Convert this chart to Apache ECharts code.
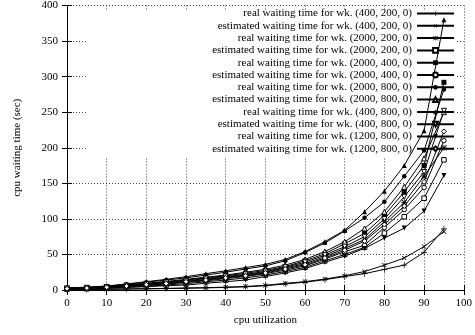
<!DOCTYPE html>
<html>
<head>
<meta charset="utf-8">
<script src="https://cdn.jsdelivr.net/npm/echarts@6/dist/echarts.min.js"></script>
<style>
  html, body { margin: 0; padding: 0; background: #fff; }
  #chart { width: 475px; height: 335px; }
</style>
</head>
<body>
<div id="chart"></div>
<script>
// cpu utilization (x)
const utilization = [0, 5, 10, 15, 20, 25, 30, 35, 40, 45, 50, 55, 60, 65, 70, 75, 80, 85, 90, 95];

const seriesNames = [
  'real waiting time for wk. (400, 200, 0)',
  'estimated waiting time for wk. (400, 200, 0)',
  'real waiting time for wk. (2000, 200, 0)',
  'estimated waiting time for wk. (2000, 200, 0)',
  'real waiting time for wk. (2000, 400, 0)',
  'estimated waiting time for wk. (2000, 400, 0)',
  'real waiting time for wk. (2000, 800, 0)',
  'estimated waiting time for wk. (2000, 800, 0)',
  'real waiting time for wk. (400, 800, 0)',
  'estimated waiting time for wk. (400, 800, 0)',
  'real waiting time for wk. (1200, 800, 0)',
  'estimated waiting time for wk. (1200, 800, 0)'
];

// waiting time (sec), one array per series, same order as seriesNames
const real400x200 = [0.5, 0.8, 1, 1.3, 1.6, 2, 2.5, 3, 3.6, 4.5, 6, 8.5, 11, 14.5, 19, 23, 29, 35, 53, 86];
const est400x200 = [0.6, 0.9, 1.2, 1.5, 1.9, 2.3, 2.8, 3.3, 4, 5, 6.6, 9.4, 11.7, 15.4, 20, 26, 35, 45, 61, 82];
const real2000x200 = [2, 2.9, 4, 5.8, 8, 10, 12, 15, 18, 21, 25, 31, 37, 47, 58.5, 71, 96, 123, 160, 200];
const est2000x200 = [1.4, 2, 2.8, 4, 5.5, 7, 9, 11.5, 14, 17, 21, 26, 32, 41, 50, 60, 80, 103, 129, 183];
const real2000x400 = [2.4, 3.3, 4.6, 6.5, 9, 11.5, 14, 17, 20, 23.5, 27.5, 33, 41, 51, 65, 79.5, 105, 138, 175, 292];
const est2000x400 = [1.6, 2.4, 3.3, 5, 6.5, 8.5, 10.5, 13, 16, 19, 23, 28, 34, 43.5, 53.8, 63, 88, 113, 144, 210];
const real2000x800 = [2.8, 3.8, 5.3, 8, 11, 14, 17, 21, 25, 29.5, 34, 41, 52.7, 66, 83, 101.5, 124, 160, 196, 282];
const est2000x800 = [2.6, 3.5, 5, 7, 9.5, 12, 15, 18, 21, 25, 29, 35, 43, 54, 67.8, 86.5, 110, 145, 185, 250];
const real400x800 = [3, 4, 5.6, 8.5, 11.7, 15, 18.7, 23, 27, 31.5, 36, 43, 54, 68, 84, 110, 139, 175, 224, 380];
const est400x800 = [2.2, 3.1, 4.3, 6, 8.5, 10.5, 13, 16, 19, 22, 26, 32, 39, 49, 61, 75, 100, 131, 166, 252];
const real1200x800 = [1.2, 1.7, 2.2, 3.5, 4.7, 6, 7, 9.5, 11.7, 14, 19, 24, 30, 39, 47.7, 58.5, 73, 87, 111, 161];
const est1200x800 = [1.8, 2.7, 3.7, 5.5, 7.5, 9, 11.5, 14, 17, 20, 24, 29.5, 35.5, 45, 56, 68.8, 92, 118, 152, 223];

const seriesValues = [
  real400x200, est400x200, real2000x200, est2000x200,
  real2000x400, est2000x400, real2000x800, est2000x800,
  real400x800, est400x800, real1200x800, est1200x800
];

const xTicks = { min: 0, max: 100, step: 10 };
const yTicks = { min: 0, max: 400, step: 50 };

// gnuplot-like point types
const PLUS = 'path://M0,4.4L10,4.4L10,5.6L0,5.6Z M4.4,0L5.6,0L5.6,10L4.4,10Z';
const STAR = 'path://M0,4.4L10,4.4L10,5.6L0,5.6Z M4.4,0L5.6,0L5.6,10L4.4,10Z M0,1L1,0L10,9L9,10Z M9,0L10,1L1,10L0,9Z';
const markers = [
  { symbol: PLUS, size: 6, open: false, rot: 0 },
  { symbol: PLUS, size: 6, open: false, rot: 45 },
  { symbol: STAR, size: 6, open: false, rot: 0 },
  { symbol: 'rect', size: 4.5, open: true, rot: 0 },
  { symbol: 'rect', size: 5, open: false, rot: 0 },
  { symbol: 'circle', size: 4.5, open: true, rot: 0 },
  { symbol: 'circle', size: 4.5, open: false, rot: 0 },
  { symbol: 'triangle', size: 5, open: true, rot: 0 },
  { symbol: 'triangle', size: 5, open: false, rot: 0 },
  { symbol: 'triangle', size: 5, open: true, rot: 180 },
  { symbol: 'triangle', size: 5, open: false, rot: 180 },
  { symbol: 'diamond', size: 5, open: true, rot: 0 }
];

const FONT = 'Liberation Serif';
const chart = echarts.init(document.getElementById('chart'));

const series = seriesNames.map((name, i) => {
  const m = markers[i];
  return {
    name: name,
    type: 'line',
    data: utilization.map((x, j) => [x, seriesValues[i][j]]),
    symbol: m.symbol,
    symbolSize: m.size,
    symbolRotate: m.rot,
    showAllSymbol: true,
    lineStyle: { color: '#000', width: 1 },
    itemStyle: m.open
      ? { color: '#fff', borderColor: '#000', borderWidth: 1 }
      : { color: '#000', borderWidth: 0 },
    emphasis: { disabled: true },
    animation: false
  };
});

const axisCommon = {
  type: 'value',
  axisLine: { show: true, lineStyle: { color: '#000', width: 1 } },
  axisTick: { show: true, inside: true, length: 5, lineStyle: { color: '#000' } },
  axisLabel: { color: '#000', fontFamily: FONT, fontSize: 11 }
};

const option = {
  backgroundColor: '#fff',
  animation: false,
  grid: { left: 67, right: 9, top: 5, bottom: 45 },
  legend: {
    orient: 'vertical',
    right: 20,
    top: 8,
    padding: 0,
    align: 'right',
    itemWidth: 37,
    itemHeight: 6,
    itemGap: 1.3,
    selectedMode: false,
    textStyle: { color: '#000', fontFamily: FONT, fontSize: 11 },
    data: seriesNames
  },
  xAxis: [
    Object.assign({}, axisCommon, {
      position: 'bottom',
      min: xTicks.min, max: xTicks.max, interval: xTicks.step,
      name: 'cpu utilization',
      nameLocation: 'middle',
      nameGap: 25,
      nameTextStyle: { color: '#000', fontFamily: FONT, fontSize: 11 },
      axisLabel: { color: '#000', fontFamily: FONT, fontSize: 11, margin: 8 },
      splitLine: { show: true, lineStyle: { color: '#444', type: [1, 2], width: 1 } }
    }),
    Object.assign({}, axisCommon, {
      position: 'top',
      min: xTicks.min, max: xTicks.max, interval: xTicks.step,
      axisLabel: { show: false },
      splitLine: { show: false }
    })
  ],
  yAxis: [
    Object.assign({}, axisCommon, {
      position: 'left',
      min: yTicks.min, max: yTicks.max, interval: yTicks.step,
      name: 'cpu waiting time (sec)',
      nameLocation: 'middle',
      nameGap: 44,
      nameTextStyle: { color: '#000', fontFamily: FONT, fontSize: 11 },
      axisLabel: { color: '#000', fontFamily: FONT, fontSize: 11, margin: 9 },
      splitLine: { show: true, lineStyle: { color: '#444', type: [1, 2], width: 1 } }
    }),
    Object.assign({}, axisCommon, {
      position: 'right',
      min: yTicks.min, max: yTicks.max, interval: yTicks.step,
      axisLabel: { show: false },
      splitLine: { show: false }
    })
  ],
  // opaque key box: hides the grid behind the legend, data lines still draw over it
  graphic: [{
    type: 'rect',
    z: 1,
    silent: true,
    shape: { x: 88, y: 10, width: 367, height: 147 },
    style: { fill: '#fff' }
  }],
  series: series
};

chart.setOption(option);
</script>
</body>
</html>
